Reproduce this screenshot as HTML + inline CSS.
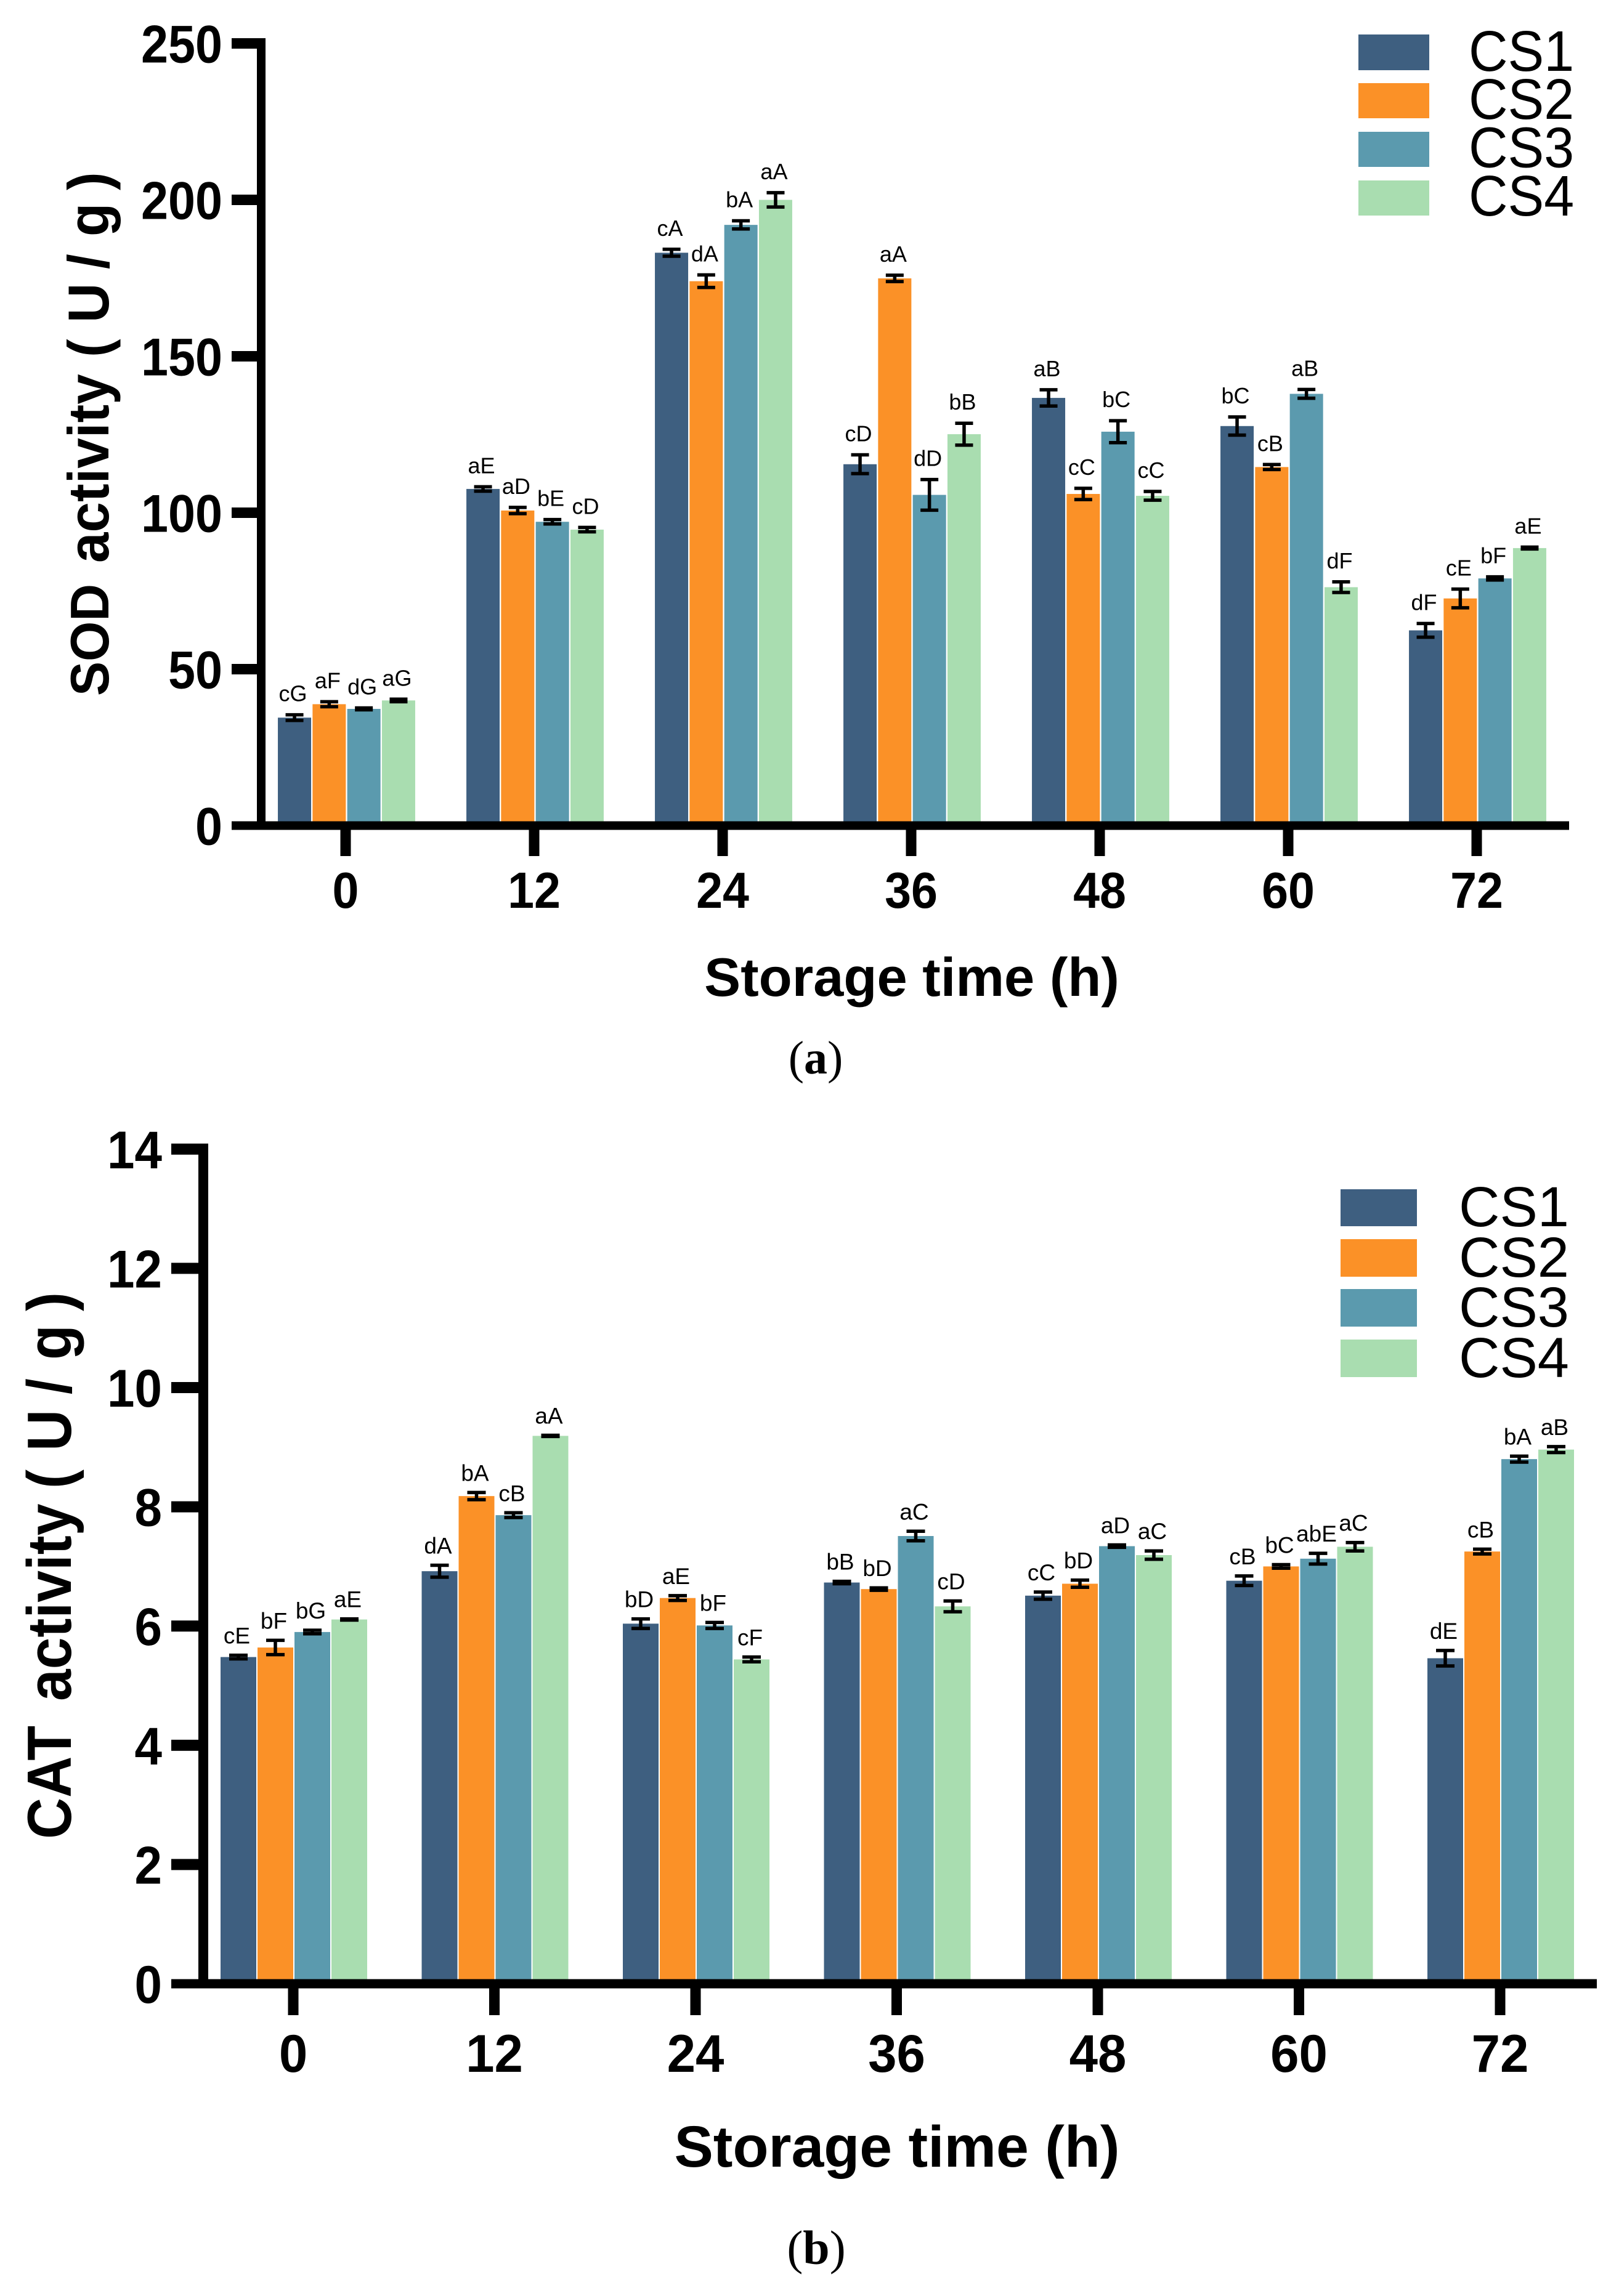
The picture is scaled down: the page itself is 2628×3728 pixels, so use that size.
<!DOCTYPE html>
<html lang="en">
<head>
<meta charset="utf-8">
<title>SOD and CAT activity during storage</title>
<style>
  html, body { margin: 0; padding: 0; background: #ffffff; }
  svg { display: block; }
  text { font-family: "Liberation Sans", Arial, sans-serif; fill: #000000; }
  .serif { font-family: "Liberation Serif", "Times New Roman", serif; }
</style>
</head>
<body>
<svg id="figure" xmlns="http://www.w3.org/2000/svg" width="2628" height="3728" viewBox="0 0 2628 3728">
  <rect x="0" y="0" width="2628" height="3728" fill="#ffffff"/>

  <g id="panel-a"></g>
  <g id="panel-b"></g>

  <!-- Panel (a) titles -->
  <text transform="translate(176,1130) rotate(-90) scale(1,1.05)" font-size="89" font-weight="700"><tspan x="0" font-size="84">SOD</tspan> <tspan x="216">activity</tspan> <tspan x="550">(</tspan> <tspan x="606">U</tspan> <tspan x="693">/</tspan> <tspan x="746">g</tspan> <tspan x="821">)</tspan></text>
  <text x="1480" y="1617" text-anchor="middle" font-size="88.5" font-weight="700">Storage time (h)</text>
  <text class="serif" x="1324" y="1743" text-anchor="middle" font-size="76">(<tspan font-weight="700">a</tspan>)</text>

  <!-- Panel (a) legend -->
  <g>
    <rect x="2205" y="56" width="115" height="58" fill="#3e5f80"/>
    <rect x="2205" y="135" width="115" height="57" fill="#fb9127"/>
    <rect x="2205" y="214" width="115" height="57" fill="#5b9aae"/>
    <rect x="2205" y="293" width="115" height="57" fill="#a9ddb0"/>
    <text transform="translate(2384,115) scale(1,1.05)" font-size="88">CS1</text>
    <text transform="translate(2384,193) scale(1,1.05)" font-size="88">CS2</text>
    <text transform="translate(2384,271.5) scale(1,1.05)" font-size="88">CS3</text>
    <text transform="translate(2384,350) scale(1,1.05)" font-size="88">CS4</text>
  </g>

  <!-- Panel (b) titles -->
  <text transform="translate(115,2986) rotate(-90) scale(1,1.09)" font-size="93" font-weight="700"><tspan x="0">CAT</tspan> <tspan x="224">activity</tspan> <tspan x="569">(</tspan> <tspan x="630">U</tspan> <tspan x="722">/</tspan> <tspan x="778">g</tspan> <tspan x="857">)</tspan></text>
  <text x="1456" y="3518" text-anchor="middle" font-size="95" font-weight="700">Storage time (h)</text>
  <text class="serif" x="1325" y="3676" text-anchor="middle" font-size="78">(<tspan font-weight="700">b</tspan>)</text>

  <!-- Panel (b) legend -->
  <g>
    <rect x="2176" y="1931" width="124" height="60" fill="#3e5f80"/>
    <rect x="2176" y="2012" width="124" height="61" fill="#fb9127"/>
    <rect x="2176" y="2093" width="124" height="61" fill="#5b9aae"/>
    <rect x="2176" y="2175" width="124" height="61" fill="#a9ddb0"/>
    <text x="2368" y="1991" font-size="92">CS1</text>
    <text x="2368" y="2073" font-size="92">CS2</text>
    <text x="2368" y="2154" font-size="92">CS3</text>
    <text x="2368" y="2236" font-size="92">CS4</text>
  </g>
</svg>

<script>
// ---- Shared data ----
const storageHours = ['0', '12', '24', '36', '48', '60', '72'];
const seriesNames = ['CS1', 'CS2', 'CS3', 'CS4'];

// ---- SOD activity (panel a) ----
const sodYTicks = [0, 50, 100, 150, 200, 250];
const sodCS1 = [34.5, 107.6, 183.1, 115.5, 136.7, 127.7, 62.4];
const sodCS2 = [38.8, 100.7, 174.0, 174.9, 106.0, 114.6, 72.6];
const sodCS3 = [37.3, 97.1, 192.0, 105.7, 125.9, 138.0, 79.0];
const sodCS4 = [40.0, 94.6, 200.0, 125.1, 105.4, 76.2, 88.7];
const sodErrCS1 = [0.9, 0.7, 1.1, 3.0, 2.6, 2.9, 2.2];
const sodErrCS2 = [0.8, 1.0, 2.0, 1.0, 1.8, 0.8, 3.0];
const sodErrCS3 = [0.3, 0.7, 1.3, 4.9, 3.5, 1.4, 0.5];
const sodErrCS4 = [0.4, 0.7, 2.3, 3.5, 1.4, 1.7, 0.3];
const sodLettersCS1 = ['cG', 'aE', 'cA', 'cD', 'aB', 'bC', 'dF'];
const sodLettersCS2 = ['aF', 'aD', 'dA', 'aA', 'cC', 'cB', 'cE'];
const sodLettersCS3 = ['dG', 'bE', 'bA', 'dD', 'bC', 'aB', 'bF'];
const sodLettersCS4 = ['aG', 'cD', 'aA', 'bB', 'cC', 'dF', 'aE'];

// ---- CAT activity (panel b) ----
const catYTicks = [0, 2, 4, 6, 8, 10, 12, 14];
const catCS1 = [5.48, 6.92, 6.04, 6.73, 6.51, 6.76, 5.46];
const catCS2 = [5.64, 8.18, 6.47, 6.62, 6.71, 7.00, 7.25];
const catCS3 = [5.90, 7.86, 6.01, 7.51, 7.34, 7.13, 8.80];
const catCS4 = [6.11, 9.19, 5.44, 6.33, 7.19, 7.33, 8.96];
const catErrCS1 = [0.03, 0.10, 0.08, 0.02, 0.06, 0.08, 0.13];
const catErrCS2 = [0.12, 0.06, 0.04, 0.02, 0.06, 0.03, 0.04];
const catErrCS3 = [0.03, 0.04, 0.05, 0.08, 0.02, 0.09, 0.05];
const catErrCS4 = [0.01, 0.01, 0.04, 0.09, 0.07, 0.07, 0.05];
const catLettersCS1 = ['cE', 'dA', 'bD', 'bB', 'cC', 'cB', 'dE'];
const catLettersCS2 = ['bF', 'bA', 'aE', 'bD', 'bD', 'bC', 'cB'];
const catLettersCS3 = ['bG', 'cB', 'bF', 'aC', 'aD', 'abE', 'bA'];
const catLettersCS4 = ['aE', 'aA', 'cF', 'cD', 'aC', 'aC', 'aB'];

const seriesColors = ['#3e5f80', '#fb9127', '#5b9aae', '#a9ddb0'];
const SVG_NS = 'http://www.w3.org/2000/svg';

function drawPanel(p) {
  const root = document.getElementById(p.groupId);
  const yPos = function (v) { return p.y0 - v * p.pxPerUnit; };
  const xPos = function (i) { return p.x0 + i * p.xStep; };

  // Bars, error bars and significance letters
  p.values.forEach(function (series, s) {
    const group = document.createElementNS(SVG_NS, 'g');
    
    
    root.appendChild(group);

    series.forEach(function (value, i) {
      const cx = xPos(i) + p.barShift + (s - 1.5) * p.barStep;
      const top = yPos(value);

      const bar = document.createElementNS(SVG_NS, 'rect');
      
      
      bar.setAttribute('x', cx - p.barW / 2);
      bar.setAttribute('y', top);
      bar.setAttribute('width', p.barW);
      bar.setAttribute('height', p.y0 - top);
      bar.setAttribute('fill', seriesColors[s]);
      group.appendChild(bar);

      const yHigh = yPos(value + p.errors[s][i]);
      const yLow = yPos(value - p.errors[s][i]);

      const err = document.createElementNS(SVG_NS, 'path');
      
      
      err.setAttribute('d',
        'M' + (cx - p.capW / 2) + ' ' + yHigh + 'H' + (cx + p.capW / 2) +
        'M' + (cx - p.capW / 2) + ' ' + yLow + 'H' + (cx + p.capW / 2) +
        'M' + cx + ' ' + yHigh + 'V' + yLow);
      err.setAttribute('stroke', '#000000');
      err.setAttribute('stroke-width', '5.5');
      err.setAttribute('fill', 'none');
      group.appendChild(err);

      const label = document.createElementNS(SVG_NS, 'text');
      
      
      label.setAttribute('x', cx - 2.5);
      label.setAttribute('y', yHigh - 3 - p.labelGap);
      label.setAttribute('text-anchor', 'middle');
      label.setAttribute('font-size', p.labelSize);
      label.textContent = p.letters[s][i];
      group.appendChild(label);
    });
  });

  // Y axis line, ticks and labels
  const yAxisTop = yPos(p.yTicks[p.yTicks.length - 1]) - p.tickH / 2;
  const yAxis = document.createElementNS(SVG_NS, 'rect');
  
  
  yAxis.setAttribute('x', p.axisX);
  yAxis.setAttribute('y', yAxisTop);
  yAxis.setAttribute('width', p.axisW);
  yAxis.setAttribute('height', p.y0 - yAxisTop + p.axisH / 2);
  yAxis.setAttribute('fill', '#000000');
  root.appendChild(yAxis);

  p.yTicks.forEach(function (tick) {
    const mark = document.createElementNS(SVG_NS, 'rect');
    
    
    mark.setAttribute('x', p.yTickLeft);
    mark.setAttribute('y', yPos(tick) - (tick === 0 ? p.axisH : p.tickH) / 2);
    mark.setAttribute('width', p.axisX - p.yTickLeft);
    mark.setAttribute('height', tick === 0 ? p.axisH : p.tickH);
    mark.setAttribute('fill', '#000000');
    root.appendChild(mark);

    const label = document.createElementNS(SVG_NS, 'text');
    
    
    label.setAttribute('transform', 'translate(' + p.yLabelRight + ',' + (yPos(tick) + 31) + ') scale(' + p.yLabelScale + ',1)');
    label.setAttribute('text-anchor', 'end');
    label.setAttribute('font-size', '86');
    label.setAttribute('font-weight', '700');
    label.textContent = tick;
    root.appendChild(label);
  });

  // X axis line, ticks and labels
  const xAxis = document.createElementNS(SVG_NS, 'rect');
  
  
  xAxis.setAttribute('x', p.yTickLeft);
  xAxis.setAttribute('y', p.y0 - p.axisH / 2);
  xAxis.setAttribute('width', p.xAxisRight - p.yTickLeft);
  xAxis.setAttribute('height', p.axisH);
  xAxis.setAttribute('fill', '#000000');
  root.appendChild(xAxis);

  p.categories.forEach(function (cat, i) {
    const mark = document.createElementNS(SVG_NS, 'rect');
    
    
    mark.setAttribute('x', xPos(i) - 8.5);
    mark.setAttribute('y', p.y0);
    mark.setAttribute('width', 17);
    mark.setAttribute('height', p.xTickBottom - p.y0);
    mark.setAttribute('fill', '#000000');
    root.appendChild(mark);

    const label = document.createElementNS(SVG_NS, 'text');
    
    
    label.setAttribute('transform', 'translate(' + xPos(i) + ',' + p.xLabelBase + ') scale(' + p.xLabelScale + ',1)');
    label.setAttribute('text-anchor', 'middle');
    label.setAttribute('font-size', p.xLabelSize);
    label.setAttribute('font-weight', '700');
    label.textContent = cat;
    root.appendChild(label);
  });
}

drawPanel({
  groupId: 'panel-a',
  prefix: 'sod',
  categories: storageHours,
  yTicks: sodYTicks,
  values: [sodCS1, sodCS2, sodCS3, sodCS4],
  errors: [sodErrCS1, sodErrCS2, sodErrCS3, sodErrCS4],
  letters: [sodLettersCS1, sodLettersCS2, sodLettersCS3, sodLettersCS4],
  y0: 1340.5, pxPerUnit: 5.08,
  x0: 561, xStep: 306,
  barShift: 1.5, barStep: 56.3, barW: 54, capW: 29,
  labelGap: 19, labelSize: 36,
  axisX: 417, axisW: 14, axisH: 14, tickH: 17,
  yTickLeft: 376, yLabelRight: 361, yLabelScale: 0.92,
  xAxisRight: 2547, xTickBottom: 1390,
  xLabelBase: 1474, xLabelSize: 83, xLabelScale: 0.93
});

drawPanel({
  groupId: 'panel-b',
  prefix: 'cat',
  categories: storageHours,
  yTicks: catYTicks,
  values: [catCS1, catCS2, catCS3, catCS4],
  errors: [catErrCS1, catErrCS2, catErrCS3, catErrCS4],
  letters: [catLettersCS1, catLettersCS2, catLettersCS3, catLettersCS4],
  y0: 3221, pxPerUnit: 96.8,
  x0: 476, xStep: 326.5,
  barShift: 1, barStep: 60, barW: 58, capW: 30,
  labelGap: 16, labelSize: 37,
  axisX: 322, axisW: 16, axisH: 15, tickH: 18,
  yTickLeft: 278, yLabelRight: 263, yLabelScale: 0.93,
  xAxisRight: 2592, xTickBottom: 3272,
  xLabelBase: 3364, xLabelSize: 86, xLabelScale: 0.97
});
</script>
</body>
</html>
